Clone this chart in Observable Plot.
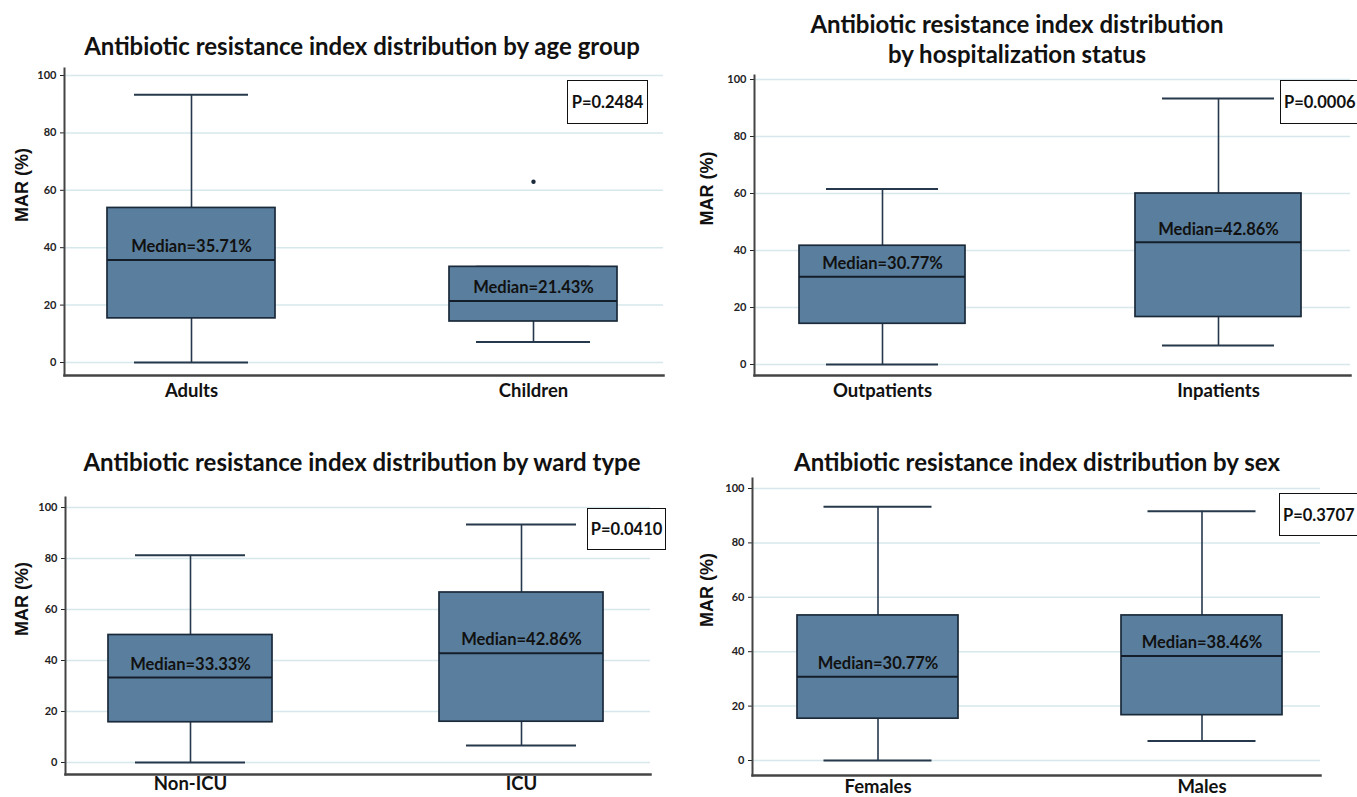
<!DOCTYPE html>
<html>
<head>
<meta charset="utf-8">
<script src="https://cdn.jsdelivr.net/npm/d3@7"></script>
<script src="https://cdn.jsdelivr.net/npm/@observablehq/plot@0.6"></script>
<style>
  html, body { margin: 0; padding: 0; background: #fff; }
  #fig { position: relative; width: 1357px; height: 797px; overflow: hidden; background: #fff; font-family: Lato, "Open Sans", sans-serif; }
  .title { position: absolute; transform: translateX(-50%); font-family: Lato, sans-serif; font-weight: 700; font-size: 24px; color: #111; white-space: nowrap; text-align: center; line-height: 30px; z-index: 2; }
  .pbox { position: absolute; border: 1.6px solid #111; box-sizing: border-box; font-family: Lato, sans-serif; font-weight: 700; font-size: 16.5px; color: #111; display: flex; align-items: center; background: #fff; z-index: 2; }
</style>
</head>
<body>
<div id="fig"></div>
<script>
// ---------- data ----------
const yTicks = [0, 20, 40, 60, 80, 100];

const ageTitle = ["Antibiotic resistance index distribution by age group"];
const ageGroups = ["Adults", "Children"];
const ageMin = [0, 7.14];
const ageQ1 = [15.38, 14.29];
const ageMedian = [35.71, 21.43];
const ageQ3 = [53.85, 33.33];
const ageMax = [93.33, 33.33];
const ageOutlierGroup = ["Children"];
const ageOutlierValue = [63];
const ageP = "P=0.2484";

const hospTitle = ["Antibiotic resistance index distribution", "by hospitalization status"];
const hospGroups = ["Outpatients", "Inpatients"];
const hospMin = [0, 6.67];
const hospQ1 = [14.29, 16.67];
const hospMedian = [30.77, 42.86];
const hospQ3 = [41.67, 60];
const hospMax = [61.54, 93.33];
const hospP = "P=0.0006";

const wardTitle = ["Antibiotic resistance index distribution by ward type"];
const wardGroups = ["Non-ICU", "ICU"];
const wardMin = [0, 6.67];
const wardQ1 = [15.79, 16];
const wardMedian = [33.33, 42.86];
const wardQ3 = [50, 66.67];
const wardMax = [81.25, 93.33];
const wardP = "P=0.0410";

const sexTitle = ["Antibiotic resistance index distribution by sex"];
const sexGroups = ["Females", "Males"];
const sexMin = [0, 7.14];
const sexQ1 = [15.38, 16.67];
const sexMedian = [30.77, 38.46];
const sexQ3 = [53.33, 53.33];
const sexMax = [93.33, 91.67];
const sexP = "P=0.3707";

const yLabel = "MAR (%)";

// ---------- helpers ----------
function boxRows(cats, mins, q1s, meds, q3s, maxs) {
  return cats.map((c, i) => ({cat: c, min: mins[i], q1: q1s[i], median: meds[i], q3: q3s[i], max: maxs[i]}));
}
function outlierRows(cats, vals) {
  return cats.map((c, i) => ({cat: c, value: vals[i]}));
}

const fig = document.getElementById("fig");

function drawPanel(g, rows, outliers, titleLines, pText) {
  const k = (g.y0 - g.y100) / 100;
  const lo = -(g.axisBottom - g.y0) / k;
  const hi = (g.y0 - g.axisTop) / k;
  const [c1, c2] = g.centers;
  const inset = g.half - g.cap;
  const boxStroke = "#1b2a3a";
  const whisk = "#26384b";
  const plot = Plot.plot({
    width: g.w,
    height: g.h,
    marginLeft: g.axisX - g.left,
    marginRight: g.left + g.w - g.axisRight,
    marginTop: g.axisTop - g.top,
    marginBottom: g.top + g.h - g.axisBottom,
    style: {background: "transparent", fontFamily: "Lato, sans-serif", overflow: "visible"},
    x: {type: "band", domain: rows.map(d => d.cat), range: [c1 - g.half - g.left, c2 + g.half - g.left],
        paddingInner: 1 - 2 * g.half / (c2 - c1), paddingOuter: 0, align: 0.5},
    y: {domain: [lo, hi]},
    marks: [
      Plot.gridY(yTicks, {stroke: "#d6e8ec", strokeOpacity: 1, strokeWidth: 1.5}),
      Plot.axisY(yTicks, {tickSize: 4, tickPadding: 4, fontSize: 11, fontWeight: "bold", color: "#222", label: null}),
      Plot.axisX({tickSize: 0, tickPadding: g.labelPad, fontSize: 18.5, fontWeight: "bold", color: "#111", label: null}),
      Plot.frame({anchor: "left", stroke: "#444", strokeWidth: 2}),
      Plot.frame({anchor: "bottom", stroke: "#444", strokeWidth: 2.5}),
      Plot.ruleX(rows, {x: "cat", y1: "q3", y2: "max", stroke: whisk, strokeWidth: 1.6}),
      Plot.ruleX(rows, {x: "cat", y1: "min", y2: "q1", stroke: whisk, strokeWidth: 1.6}),
      Plot.tickY(rows, {x: "cat", y: "max", insetLeft: inset, insetRight: inset, stroke: whisk, strokeWidth: 2}),
      Plot.tickY(rows, {x: "cat", y: "min", insetLeft: inset, insetRight: inset, stroke: whisk, strokeWidth: 2}),
      Plot.barY(rows, {x: "cat", y1: "q1", y2: "q3", fill: "#5a7f9e", stroke: boxStroke, strokeWidth: 1.7}),
      Plot.tickY(rows, {x: "cat", y: "median", stroke: "#141e2a", strokeWidth: 2}),
      Plot.text(rows, {x: "cat", y: "median", text: d => `Median=${d.median.toFixed(2)}%`, dy: -13,
                       fontSize: 16.5, fontWeight: "bold", fill: "#111"}),
      Plot.dot(outliers, {x: "cat", y: "value", r: 2.2, fill: boxStroke, stroke: null}),
      Plot.text([yLabel], {text: d => d, frameAnchor: "left", dx: g.labelDx, rotate: -90, fontSize: 18,
                           fontWeight: "bold", fontFamily: "'Liberation Sans', Arial, sans-serif", fill: "#111"})
    ]
  });
  plot.style.position = "absolute";
  plot.style.left = g.left + "px";
  plot.style.top = g.top + "px";
  fig.appendChild(plot);

  const t = document.createElement("div");
  t.className = "title";
  t.style.left = g.titleX + "px";
  t.style.top = g.titleTop + "px";
  t.innerHTML = titleLines.join("<br>");
  fig.appendChild(t);

  const p = document.createElement("div");
  p.className = "pbox";
  p.style.left = g.p[0] + "px";
  p.style.top = g.p[1] + "px";
  p.style.width = g.p[2] + "px";
  p.style.height = g.p[3] + "px";
  p.style.justifyContent = g.pAlign;
  p.style.paddingLeft = g.pAlign === "flex-start" ? "3px" : "0";
  p.textContent = pText;
  fig.appendChild(p);
}

// ---------- layout (pixels) ----------
drawPanel(
  {left: 0, top: 60, w: 680, h: 355, axisX: 64, axisRight: 663, axisTop: 68, axisBottom: 375,
   y0: 362, y100: 75, centers: [191, 533], half: 84, cap: 57, labelPad: 8, labelDx: -42,
   titleX: 362, titleTop: 31, p: [567, 80, 81, 44], pAlign: "center"},
  boxRows(ageGroups, ageMin, ageQ1, ageMedian, ageQ3, ageMax),
  outlierRows(ageOutlierGroup, ageOutlierValue), ageTitle, ageP);

drawPanel(
  {left: 690, top: 70, w: 667, h: 345, axisX: 754, axisRight: 1350, axisTop: 75, axisBottom: 375,
   y0: 364, y100: 79, centers: [882, 1218], half: 83, cap: 56, labelPad: 8, labelDx: -47,
   titleX: 1017, titleTop: 9, p: [1280, 80, 90, 44], pAlign: "flex-start"},
  boxRows(hospGroups, hospMin, hospQ1, hospMedian, hospQ3, hospMax),
  [], hospTitle, hospP);

drawPanel(
  {left: 0, top: 490, w: 680, h: 307, axisX: 65, axisRight: 650, axisTop: 497, axisBottom: 774,
   y0: 762, y100: 507, centers: [190, 521], half: 82, cap: 55, labelPad: 2, labelDx: -43,
   titleX: 362, titleTop: 447, p: [587, 508, 79, 42], pAlign: "center"},
  boxRows(wardGroups, wardMin, wardQ1, wardMedian, wardQ3, wardMax),
  [], wardTitle, wardP);

drawPanel(
  {left: 690, top: 474, w: 667, h: 323, axisX: 752, axisRight: 1320, axisTop: 478, axisBottom: 775,
   y0: 760, y100: 488, centers: [877.5, 1201.5], half: 80.5, cap: 54, labelPad: 4, labelDx: -45,
   titleX: 1037, titleTop: 447, p: [1279, 493, 90, 43], pAlign: "flex-start"},
  boxRows(sexGroups, sexMin, sexQ1, sexMedian, sexQ3, sexMax),
  [], sexTitle, sexP);
</script>
</body>
</html>
